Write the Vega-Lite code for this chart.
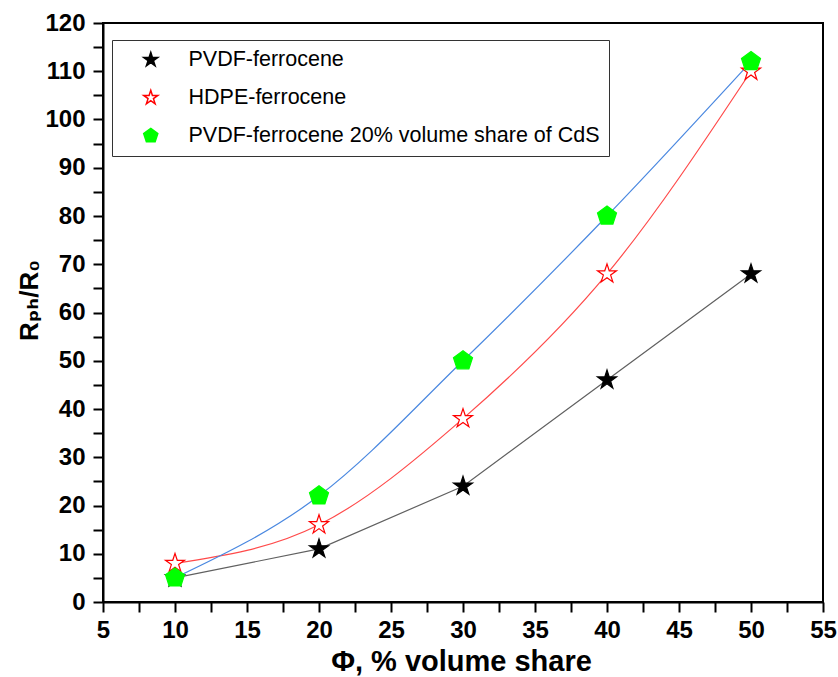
{
  "$schema": "https://vega.github.io/schema/vega-lite/v6.json",
  "width": 720,
  "height": 579,
  "autosize": "none",
  "padding": {"left": 103, "top": 23, "right": 15, "bottom": 75},
  "background": "white",
  "config": {
    "view": {"stroke": "black", "strokeWidth": 2},
    "font": "Liberation Sans",
    "axis": {
      "grid": false,
      "domainColor": "black",
      "domainWidth": 2,
      "tickColor": "black",
      "tickWidth": 2,
      "tickSize": 10,
      "labelFont": "Liberation Sans",
      "labelFontWeight": "bold",
      "labelFontSize": 24,
      "labelColor": "black",
      "titleFont": "Liberation Sans",
      "titleFontWeight": "bold",
      "titleFontSize": 29,
      "titleColor": "black"
    }
  },
  "data": {
    "values": [
      {"series": "PVDF-ferrocene", "x": 10, "y": 5},
      {"series": "PVDF-ferrocene", "x": 20, "y": 11},
      {"series": "PVDF-ferrocene", "x": 30, "y": 24},
      {"series": "PVDF-ferrocene", "x": 40, "y": 46},
      {"series": "PVDF-ferrocene", "x": 50, "y": 68},
      {"series": "HDPE-ferrocene", "x": 10, "y": 8},
      {"series": "HDPE-ferrocene", "x": 20, "y": 16},
      {"series": "HDPE-ferrocene", "x": 30, "y": 38},
      {"series": "HDPE-ferrocene", "x": 40, "y": 68},
      {"series": "HDPE-ferrocene", "x": 50, "y": 110},
      {"series": "PVDF-ferrocene 20% volume share of CdS", "x": 10, "y": 5},
      {"series": "PVDF-ferrocene 20% volume share of CdS", "x": 20, "y": 22},
      {"series": "PVDF-ferrocene 20% volume share of CdS", "x": 30, "y": 50},
      {"series": "PVDF-ferrocene 20% volume share of CdS", "x": 40, "y": 80},
      {"series": "PVDF-ferrocene 20% volume share of CdS", "x": 50, "y": 112}
    ]
  },
  "encoding": {
    "x": {
      "field": "x", "type": "quantitative",
      "scale": {"domain": [5, 55], "nice": false, "zero": false},
      "axis": {
        "title": "Φ, % volume share",
        "values": [5, 7.5, 10, 12.5, 15, 17.5, 20, 22.5, 25, 27.5, 30, 32.5, 35, 37.5, 40, 42.5, 45, 47.5, 50, 52.5, 55],
        "labelExpr": "datum.value % 5 === 0 ? datum.label : ''",
        "labelPadding": 6,
        "labelFlush": false,
        "labelOverlap": false,
        "titleAnchor": "middle",
        "titleAlign": "center",
        "titleBaseline": "alphabetic",
        "titleX": 358,
        "titleY": 68,
        "encode": {"ticks": {"update": {"y2": {"signal": "datum.value % 5 === 0 ? 10 : 5"}}}}
      }
    },
    "y": {
      "field": "y", "type": "quantitative",
      "scale": {"domain": [0, 120], "nice": false},
      "axis": {
        "title": "Rₚₕ/R₀",
        "titleFont": "Liberation Sans, DejaVu Sans",
        "titleFontSize": 26,
        "values": [0, 5, 10, 15, 20, 25, 30, 35, 40, 45, 50, 55, 60, 65, 70, 75, 80, 85, 90, 95, 100, 105, 110, 115, 120],
        "labelExpr": "datum.value % 10 === 0 ? datum.label : ''",
        "labelPadding": 8,
        "labelFlush": false,
        "labelOverlap": false,
        "titleAngle": -90,
        "titleAlign": "center",
        "titleBaseline": "middle",
        "titleX": -74,
        "titleY": 277,
        "encode": {"ticks": {"update": {"x2": {"signal": "datum.value % 10 === 0 ? -10 : -5"}}}}
      }
    }
  },
  "layer": [
    {
      "transform": [{"filter": "datum.series === 'PVDF-ferrocene'"}],
      "mark": {"type": "line", "interpolate": "linear", "strokeWidth": 1.2, "color": "#606060"},
      "encoding": {}
    },
    {
      "transform": [{"filter": "datum.series === 'HDPE-ferrocene'"}],
      "mark": {"type": "line", "interpolate": "monotone", "strokeWidth": 1.2, "color": "#ff4a4a"},
      "encoding": {}
    },
    {
      "transform": [{"filter": "datum.series === 'PVDF-ferrocene 20% volume share of CdS'"}],
      "mark": {"type": "line", "interpolate": "monotone", "strokeWidth": 1.2, "color": "#4a88e0"},
      "encoding": {}
    },
    {
      "mark": {"type": "point", "filled": true, "size": 400, "strokeWidth": 1.2, "opacity": 1},
      "encoding": {
        "shape": {
          "field": "series", "type": "nominal",
          "scale": {
            "domain": ["PVDF-ferrocene", "HDPE-ferrocene", "PVDF-ferrocene 20% volume share of CdS"],
            "range": [
              "M0,-1L0.2245,-0.309L0.951,-0.309L0.363,0.118L0.588,0.809L0,0.382L-0.588,0.809L-0.363,0.118L-0.951,-0.309L-0.2245,-0.309Z",
              "M0,-1L0.2245,-0.309L0.951,-0.309L0.363,0.118L0.588,0.809L0,0.382L-0.588,0.809L-0.363,0.118L-0.951,-0.309L-0.2245,-0.309Z",
              "M0,-1L0.951,-0.309L0.588,0.809L-0.588,0.809L-0.951,-0.309Z"
            ]
          },
          "legend": {
            "title": null, "orient": "none", "legendX": 9, "legendY": 17,
            "fillColor": "white", "strokeColor": "#333333", "padding": 9,
            "labelFont": "Liberation Sans", "labelFontSize": 21.5, "labelColor": "black", "labelLimit": 800,
            "symbolSize": 220, "symbolOffset": 19, "labelOffset": 27, "rowPadding": 15,
            "encode": {
              "symbols": {
                "size": {"value": 220},
                "strokeWidth": {"value": 1.2},
                "opacity": {"value": 1},
                "shape": {"value": {"expr": "datum.value === 'PVDF-ferrocene 20% volume share of CdS' ? 'M-4.6,0L4.6,0M0,-1L0.951,-0.309L0.588,0.809L-0.588,0.809L-0.951,-0.309Z' : 'M-4.6,0L4.6,0M0,-1L0.2245,-0.309L0.951,-0.309L0.363,0.118L0.588,0.809L0,0.382L-0.588,0.809L-0.363,0.118L-0.951,-0.309L-0.2245,-0.309Z'"}},
                "fill": {"value": {"expr": "datum.value === 'PVDF-ferrocene' ? 'black' : datum.value === 'HDPE-ferrocene' ? 'white' : '#00ff00'"}},
                "stroke": {"value": {"expr": "datum.value === 'PVDF-ferrocene' ? '#606060' : datum.value === 'HDPE-ferrocene' ? '#ff2020' : '#3d7fe0'"}}
              }
            }
          }
        },
        "fill": {
          "field": "series", "type": "nominal",
          "scale": {"domain": ["PVDF-ferrocene", "HDPE-ferrocene", "PVDF-ferrocene 20% volume share of CdS"], "range": ["black", "white", "#00ff00"]},
          "legend": {
            "title": null, "orient": "none", "legendX": 9, "legendY": 17,
            "fillColor": "white", "strokeColor": "#333333", "padding": 9,
            "labelFont": "Liberation Sans", "labelFontSize": 21.5, "labelColor": "black", "labelLimit": 800,
            "symbolSize": 220, "symbolOffset": 19, "labelOffset": 27, "rowPadding": 15,
            "encode": {
              "symbols": {
                "size": {"value": 220},
                "strokeWidth": {"value": 1.2},
                "opacity": {"value": 1},
                "shape": {"value": {"expr": "datum.value === 'PVDF-ferrocene 20% volume share of CdS' ? 'M-4.6,0L4.6,0M0,-1L0.951,-0.309L0.588,0.809L-0.588,0.809L-0.951,-0.309Z' : 'M-4.6,0L4.6,0M0,-1L0.2245,-0.309L0.951,-0.309L0.363,0.118L0.588,0.809L0,0.382L-0.588,0.809L-0.363,0.118L-0.951,-0.309L-0.2245,-0.309Z'"}},
                "fill": {"value": {"expr": "datum.value === 'PVDF-ferrocene' ? 'black' : datum.value === 'HDPE-ferrocene' ? 'white' : '#00ff00'"}},
                "stroke": {"value": {"expr": "datum.value === 'PVDF-ferrocene' ? '#606060' : datum.value === 'HDPE-ferrocene' ? '#ff2020' : '#3d7fe0'"}}
              }
            }
          }
        },
        "stroke": {
          "field": "series", "type": "nominal",
          "scale": {"domain": ["PVDF-ferrocene", "HDPE-ferrocene", "PVDF-ferrocene 20% volume share of CdS"], "range": ["black", "#ff0000", "#00ff00"]},
          "legend": {
            "title": null, "orient": "none", "legendX": 9, "legendY": 17,
            "fillColor": "white", "strokeColor": "#333333", "padding": 9,
            "labelFont": "Liberation Sans", "labelFontSize": 21.5, "labelColor": "black", "labelLimit": 800,
            "symbolSize": 220, "symbolOffset": 19, "labelOffset": 27, "rowPadding": 15,
            "encode": {
              "symbols": {
                "size": {"value": 220},
                "strokeWidth": {"value": 1.2},
                "opacity": {"value": 1},
                "shape": {"value": {"expr": "datum.value === 'PVDF-ferrocene 20% volume share of CdS' ? 'M-4.6,0L4.6,0M0,-1L0.951,-0.309L0.588,0.809L-0.588,0.809L-0.951,-0.309Z' : 'M-4.6,0L4.6,0M0,-1L0.2245,-0.309L0.951,-0.309L0.363,0.118L0.588,0.809L0,0.382L-0.588,0.809L-0.363,0.118L-0.951,-0.309L-0.2245,-0.309Z'"}},
                "fill": {"value": {"expr": "datum.value === 'PVDF-ferrocene' ? 'black' : datum.value === 'HDPE-ferrocene' ? 'white' : '#00ff00'"}},
                "stroke": {"value": {"expr": "datum.value === 'PVDF-ferrocene' ? '#606060' : datum.value === 'HDPE-ferrocene' ? '#ff2020' : '#3d7fe0'"}}
              }
            }
          }
        }
      }
    }
  ]
}
